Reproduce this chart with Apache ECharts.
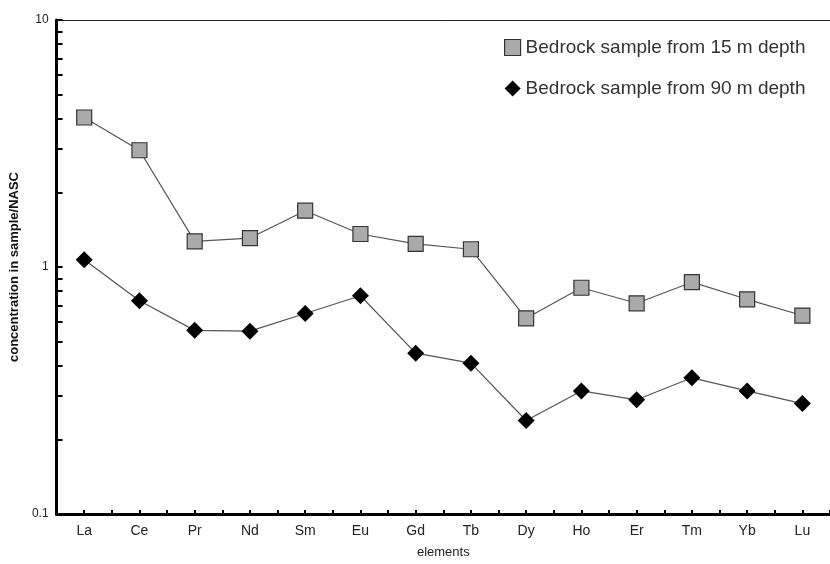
<!DOCTYPE html>
<html>
<head>
<meta charset="utf-8">
<script src="https://cdn.jsdelivr.net/npm/echarts@6/dist/echarts.min.js"></script>
<style>
html,body{margin:0;padding:0;background:#fff;}
#chart{width:830px;height:564px;}
</style>
</head>
<body>
<div id="chart"></div>
<script>
var categories = ['La','Ce','Pr','Nd','Sm','Eu','Gd','Tb','Dy','Ho','Er','Tm','Yb','Lu'];
var depth15 = [4.03, 2.97, 1.27, 1.31, 1.69, 1.36, 1.24, 1.18, 0.62, 0.824, 0.713, 0.868, 0.74, 0.636];
var depth90 = [1.07, 0.73, 0.554, 0.55, 0.648, 0.765, 0.448, 0.408, 0.239, 0.315, 0.29, 0.356, 0.315, 0.28];
var yTickValues = [0.1,0.2,0.3,0.4,0.5,0.6,0.7,0.8,0.9,1,2,3,4,5,6,7,8,9,10];
var yLabelValues = [0.1, 1, 10];
var seriesNames = ['Bedrock sample from 15 m depth', 'Bedrock sample from 90 m depth'];

function pairs(arr){ return arr.map(function(v,i){ return [i+1, v]; }); }
var xTicks = [];
for (var i = 1; i <= categories.length; i++) { xTicks.push(i); xTicks.push(i + 0.5); }

var chart = echarts.init(document.getElementById('chart'));
chart.setOption({
  animation: false,
  backgroundColor: '#fff',
  grid: {left: 51, top: 20, bottom: 41, right: -10, containLabel: false},
  legend: {
    orient: 'vertical',
    left: 499, top: 33,
    itemWidth: 16, itemHeight: 16, itemGap: 22,
    textStyle: {fontFamily: 'Liberation Sans', fontSize: 19, color: '#333'},
    data: [{name: seriesNames[0], icon: 'rect', itemStyle: {color: '#aaaaaa', borderColor: '#333', borderWidth: 1.2}},
           {name: seriesNames[1], icon: 'diamond', itemStyle: {color: '#000'}}]
  },
  xAxis: [{
    type: 'value', min: 0.5, max: 14.5, interval: 0.5,
    name: 'elements', nameLocation: 'middle', nameGap: 32,
    nameTextStyle: {fontFamily: 'Liberation Sans', fontSize: 13, color: '#222'},
    axisLine: {show: true, lineStyle: {color: '#000', width: 3}},
    axisTick: {show: true, inside: true, length: 4, lineStyle: {color: '#000', width: 2}, customValues: xTicks},
    axisLabel: {
      customValues: categories.map(function(c,i){return i+1;}),
      formatter: function(v){ return categories[Math.round(v)-1] || ''; },
      fontFamily: 'Liberation Sans', fontSize: 14, color: '#222', margin: 10
    },
    splitLine: {show: false}
  }, {
    type: 'value', position: 'top', min: 0.5, max: 14.5,
    axisLine: {show: true, lineStyle: {color: '#222', width: 1}},
    axisTick: {show: false}, axisLabel: {show: false}, splitLine: {show: false}
  }],
  yAxis: {
    type: 'log', logBase: 10, min: 0.1, max: 10,
    name: 'concentration in sample/NASC', nameLocation: 'middle', nameGap: 33,
    nameTextStyle: {fontFamily: 'Liberation Sans', fontSize: 13, fontWeight: 'bold', color: '#111'},
    axisLine: {show: true, lineStyle: {color: '#000', width: 3}},
    axisTick: {show: true, inside: true, length: 6, lineStyle: {color: '#000', width: 2}, customValues: yTickValues},
    axisLabel: {customValues: yLabelValues, fontFamily: 'Liberation Sans', fontSize: 12, color: '#222', margin: 8,
      formatter: function(v){ return String(v); }},
    splitLine: {show: false}
  },
  series: [{
    name: seriesNames[0], type: 'line', data: pairs(depth15),
    symbol: 'rect', symbolSize: 15,
    lineStyle: {color: '#555', width: 1.2},
    itemStyle: {color: '#aaaaaa', borderColor: '#333', borderWidth: 1.2},
    z: 3
  }, {
    name: seriesNames[1], type: 'line', data: pairs(depth90),
    symbol: 'diamond', symbolSize: 17,
    lineStyle: {color: '#555', width: 1.2},
    itemStyle: {color: '#000', borderColor: '#000', borderWidth: 0},
    z: 3
  }]
});
</script>
</body>
</html>
